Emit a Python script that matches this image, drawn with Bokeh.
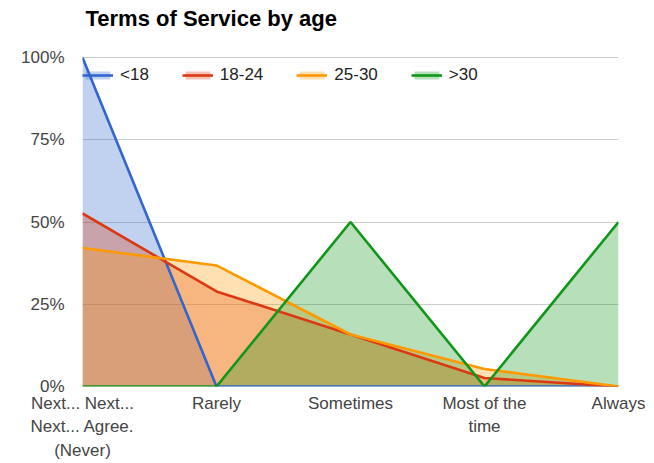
from bokeh.plotting import figure
from bokeh.models import Range1d, FixedTicker, NumeralTickFormatter, Legend, LegendItem, Label
from bokeh.embed import file_html
from bokeh.resources import INLINE

# Answer categories along the x axis
categories = ["Next... Next...\nNext... Agree.\n(Never)", "Rarely", "Sometimes",
              "Most of the\ntime", "Always"]

# Share of each age group giving each answer
under_18 = [1.0, 0.0, 0.0, 0.0, 0.0]
age_18_24 = [0.526, 0.289, 0.158, 0.026, 0.0]
age_25_30 = [0.421, 0.368, 0.158, 0.053, 0.0]
over_30 = [0.0, 0.0, 0.5, 0.0, 0.5]

series_names = ["<18", "18-24", "25-30", ">30"]
series_values = [under_18, age_18_24, age_25_30, over_30]
series_colors = ["#3366cc", "#dc3912", "#ff9900", "#109618"]

y_ticks = [0, 0.25, 0.5, 0.75, 1.0]

FONT = "Liberation Sans"

# The plot area reaches the top of the canvas so the title and legend sit inside it;
# 100% lands 57px below the top edge of a 386px tall plot area.
PLOT_AREA_H = 386
HUNDRED_PCT_H = 329

p = figure(width=654, height=463, output_backend="svg", toolbar_location=None,
           x_range=Range1d(0, len(categories) - 1),
           y_range=Range1d(0, PLOT_AREA_H / HUNDRED_PCT_H),
           min_border_left=82, min_border_right=36, min_border_top=0,
           min_border_bottom=77)
p.outline_line_color = None
p.background_fill_color = "white"
p.border_fill_color = "white"

title = Label(text="Terms of Service by age", x=3, y=PLOT_AREA_H - 18,
              x_units="screen", y_units="screen",
              text_font=FONT, text_font_size="22px", text_font_style="bold",
              text_color="#000000", text_baseline="middle", text_align="left")
p.add_layout(title)

xs = list(range(len(categories)))

# translucent areas first, then all outlines on top of them
areas = [p.varea(x=xs, y1=[0] * len(xs), y2=vals, fill_color=color, fill_alpha=0.3)
         for vals, color in zip(series_values, series_colors)]
lines = [p.line(x=xs, y=vals, line_color=color, line_width=2.6)
         for vals, color in zip(series_values, series_colors)]

items = [LegendItem(label=name, renderers=[a, l])
         for name, a, l in zip(series_names, areas, lines)]

legend = Legend(items=items, orientation="horizontal", location=(0, 301),
                border_line_color=None, background_fill_alpha=0,
                label_text_font=FONT, label_text_font_size="17px",
                label_text_color="#222222", glyph_width=31, glyph_height=10,
                label_standoff=7, spacing=33, padding=0, margin=0)
p.add_layout(legend)

# x axis
p.xaxis.ticker = FixedTicker(ticks=xs)
p.xaxis.major_label_overrides = {i: c for i, c in enumerate(categories)}
p.xaxis.axis_line_color = None
p.xaxis.major_tick_line_color = None
p.xaxis.major_tick_out = 0
p.xaxis.major_tick_in = 0
p.xaxis.minor_tick_line_color = None
p.xaxis.minor_tick_out = 0
p.xaxis.major_label_text_font = FONT
p.xaxis.major_label_text_font_size = "17px"
p.xaxis.major_label_text_color = "#444444"
p.xaxis.major_label_text_line_height = 1.25
p.xaxis.major_label_standoff = 7
p.xgrid.grid_line_color = None

# y axis
p.yaxis.ticker = FixedTicker(ticks=y_ticks)
p.yaxis.formatter = NumeralTickFormatter(format="0%")
p.yaxis.axis_line_color = None
p.yaxis.major_tick_line_color = None
p.yaxis.major_tick_out = 0
p.yaxis.major_tick_in = 0
p.yaxis.minor_tick_line_color = None
p.yaxis.minor_tick_out = 0
p.yaxis.major_label_text_font = FONT
p.yaxis.major_label_text_font_size = "17px"
p.yaxis.major_label_text_color = "#444444"
p.yaxis.major_label_standoff = 18
p.ygrid.grid_line_color = "#cccccc"
p.ygrid.grid_line_width = 1

open("out.html", "w").write(file_html(p, INLINE))
